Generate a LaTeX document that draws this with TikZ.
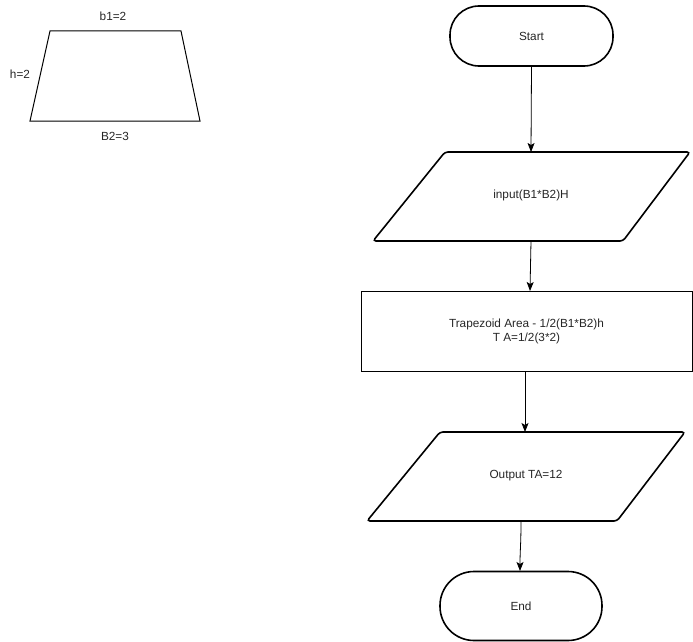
\documentclass[tikz,border=0pt]{standalone}
\usepackage{fontspec}
\setmainfont{Liberation Sans}
\usetikzlibrary{arrows.meta}
\begin{document}
\begin{tikzpicture}[x=1pt,y=-1pt,
  lbl/.style={font=\fontsize{11.8}{14}\selectfont, align=center, inner sep=0pt, text=black!85},
  term/.style={draw, line width=1.6pt, rounded corners=29pt, lbl},
  para/.style={draw, line width=1.6pt, rounded corners=3pt},
  procbox/.style={draw, line width=1pt, lbl},
  arr/.style={draw, line width=0.8pt, -{Stealth[length=9pt,width=7pt,inset=2pt]}}]
\useasboundingbox (0,0) rectangle (693,642);
% trapezoid sketch
\draw[line width=1pt] (50,31) -- (181,31) -- (200,121) -- (30,121) -- cycle;
\node[lbl] (b1) at (113,16) {b1=2};
\node[lbl] (h) at (20,74) {h=2};
\node[lbl] (b2) at (115,136) {B2=3};
% start
\node[term, minimum width=163pt, minimum height=60pt] (start) at (531.5,36) {Start};
% input
\draw[para] (445,152) -- (690,152) -- (623,241) -- (373,241) -- cycle;
\node[lbl] (intext) at (531,195) {input(B1*B2)H};
\coordinate (inTop) at (531,152);
\coordinate (inBot) at (531,241);
% process
\node[procbox, minimum width=331pt, minimum height=80pt] (proc) at (526.5,331) {Trapezoid Area - 1/2(B1*B2)h\\T A=1/2(3*2)};
\coordinate (procIn) at (530,291);
\coordinate (procOut) at (525,371);
% output
\draw[para] (440,432) -- (685,432) -- (617,521) -- (367,521) -- cycle;
\node[lbl] (outtext) at (526,476) {Output TA=12};
\coordinate (outTop) at (525,432);
\coordinate (outBot) at (521,521);
% end
\node[term, minimum width=162pt, minimum height=69pt, rounded corners=34pt] (end) at (521,606) {End};
\coordinate (endIn) at (520,571);
% connectors
\draw[arr] (start.south) -- (inTop);
\draw[arr] (inBot) -- (procIn);
\draw[arr] (procOut) -- (outTop);
\draw[arr] (outBot) .. controls (521,545) and (520,550) .. (endIn);
\end{tikzpicture}
\end{document}
